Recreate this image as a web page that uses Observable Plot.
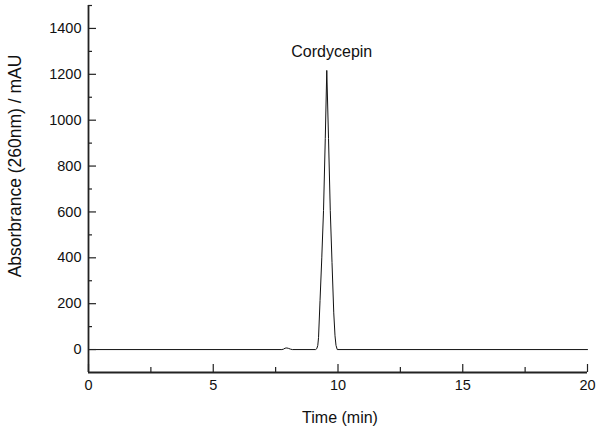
<!DOCTYPE html>
<html>
<head>
<meta charset="utf-8">
<script src="https://cdn.jsdelivr.net/npm/d3@7"></script>
<script src="https://cdn.jsdelivr.net/npm/@observablehq/plot@0.6"></script>
<style>
  html, body { margin: 0; padding: 0; background: #fff; }
  svg { display: block; }
</style>
</head>
<body>
<div id="chart"></div>
<script>
// Chromatogram trace
const timeMin = [0, 7.75, 7.82, 7.88, 7.95, 8.02, 8.09, 8.17, 9.1, 9.15, 9.19, 9.22, 9.28, 9.35, 9.42, 9.49, 9.55, 9.62, 9.69, 9.76, 9.83, 9.88, 9.92, 9.97, 20];
const absorbance = [0, 0, 2, 6, 7, 5, 2, 0, 0, 4, 18, 52, 214, 400, 606, 920, 1217, 920, 606, 380, 160, 60, 18, 0, 0];

// Axis ticks
const xMajorTicks = [0, 5, 10, 15, 20];
const xMinorTicks = [2.5, 7.5, 12.5, 17.5];
const yMajorTicks = [0, 200, 400, 600, 800, 1000, 1200, 1400];
const yMinorTicks = [100, 300, 500, 700, 900, 1100, 1300, 1500];

// Annotation
const peakLabels = ["Cordycepin"];
const peakTimes = [9.55];
const peakHeights = [1217];

const trace = timeMin.map((t, i) => ({t, v: absorbance[i]}));
const peaks = peakLabels.map((label, i) => ({label, t: peakTimes[i], v: peakHeights[i]}));

const font = "'Liberation Sans', Arial, Helvetica, sans-serif";

const chart = Plot.plot({
  width: 600,
  height: 436,
  marginLeft: 88,
  marginRight: 13,
  marginTop: 5,
  marginBottom: 64,
  style: {fontFamily: font, fontSize: "14px", color: "#000", background: "#fff"},
  x: {domain: [0, 20]},
  y: {domain: [-100, 1500]},
  marks: [
    Plot.line(trace, {x: "t", y: "v", stroke: "#111", strokeWidth: 1}),
    Plot.ruleX([0], {stroke: "#222", strokeWidth: 1.8}),
    Plot.ruleY([-100], {stroke: "#222", strokeWidth: 1.8}),
    Plot.axisY(yMajorTicks, {tickSize: -8, text: null, stroke: "#222", strokeWidth: 1.2, label: null}),
    Plot.axisY(yMinorTicks, {tickSize: -4, text: null, stroke: "#222", strokeWidth: 1.2, label: null}),
    Plot.axisY(yMajorTicks, {tickSize: 0, tickPadding: 7, tickFormat: "d", fontSize: 14.5, fill: "#111", label: null}),
    Plot.axisX(xMajorTicks, {tickSize: -8, text: null, stroke: "#222", strokeWidth: 1.2, label: null}),
    Plot.axisX(xMinorTicks, {tickSize: -5, text: null, stroke: "#222", strokeWidth: 1.2, label: null}),
    Plot.axisX(xMajorTicks, {tickSize: 0, tickPadding: 7, tickFormat: "d", fontSize: 14.5, fill: "#111", label: null}),
    Plot.text(["Time (min)"], {frameAnchor: "bottom", dy: 50, dx: 2, fontSize: 16, fill: "#111"}),
    Plot.text(["Absorbrance (260nm) / mAU"], {frameAnchor: "left", textAnchor: "middle", dx: -73, dy: -23, rotate: -90, fontSize: 17.5, fill: "#111"}),
    Plot.text(peaks, {x: "t", y: "v", text: "label", dy: -19, dx: 5, fontSize: 16, fill: "#111"})
  ]
});
document.getElementById("chart").append(chart);
</script>
</body>
</html>
